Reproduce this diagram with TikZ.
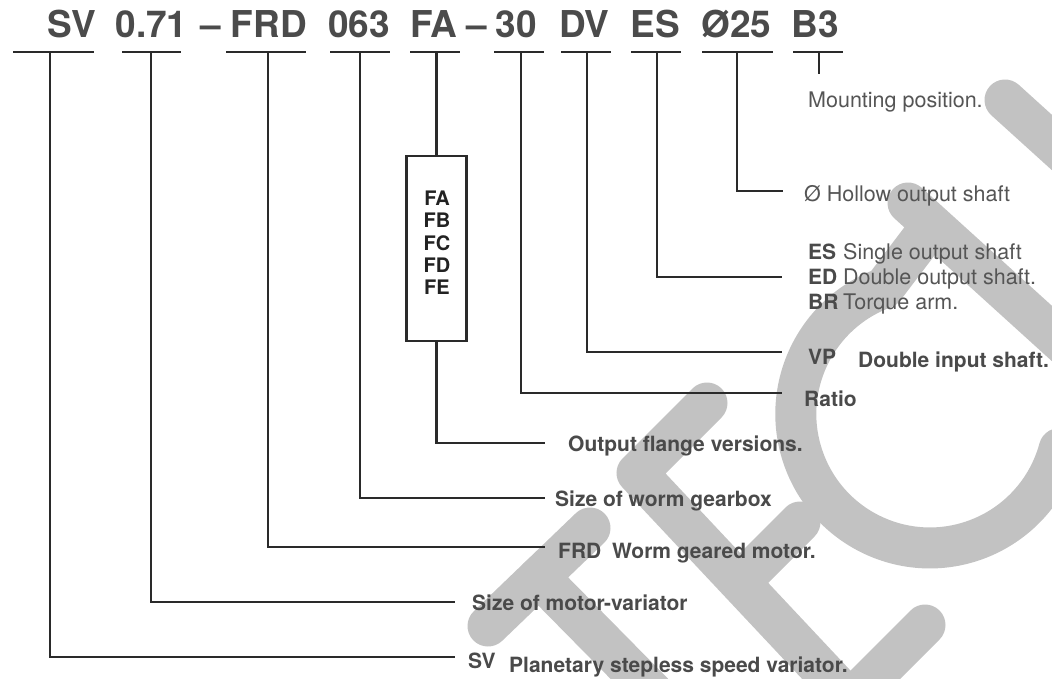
\documentclass[tikz,border=0pt]{standalone}
\usepackage{fontspec}
\setmainfont{TeX Gyre Heros}
\definecolor{hdr}{HTML}{4B4B4B}
\definecolor{lab}{HTML}{4A4A4A}
\definecolor{reg}{HTML}{555555}
\definecolor{lnc}{HTML}{2A2A2A}
\definecolor{wm}{HTML}{C2C2C2}
\definecolor{boxt}{HTML}{222222}
\tikzset{
  code/.style={font=\fontsize{37}{40}\selectfont\bfseries, text=hdr, inner sep=0pt, anchor=base},
  bl/.style={font=\fontsize{21}{24}\selectfont\bfseries, text=lab, inner sep=0pt, anchor=base west},
  rl/.style={font=\fontsize{21.5}{24}\selectfont, text=reg, inner sep=0pt, anchor=base west},
  ln/.style={draw=lnc, line width=2.4pt},
  wmark/.style={draw=wm, line width=41pt, line cap=round, line join=round},
  boxtxt/.style={font=\fontsize{20}{22}\selectfont\bfseries, text=boxt, inner sep=0pt, anchor=base},
  flbox/.style={draw=lnc, line width=2.4pt, minimum width=60pt, minimum height=185pt, inner sep=0pt},
}
\begin{document}
\begin{tikzpicture}[x=1pt,y=-1pt]
\useasboundingbox[fill=white] (0,0) rectangle (1052,679);
% watermark
\begin{scope}
\clip (0,0) rectangle (1052,679);
\draw[wmark] (1005,100) -- (1090,177);
\draw[wmark] (908,203) -- (1090,368);
\draw[wmark] (922,238) -- (884,288) arc[start angle=-110, end angle=-345, radius=134];
\draw[wmark] (488,626) -- (590,528);
\draw[wmark] (539,577) -- (670,710);
\draw[wmark] (707,403) -- (637,473) -- (850,700);
\draw[wmark] (740,582) -- (800,522);
\draw[wmark] (851,699) -- (925,625);
\end{scope}
% header codes
\node[code] (h-sv)  at (72,37.7)    {SV};
\node[code] (h-071) at (151.5,37.7) {0.71};
\node[code] (h-d1)  at (210.5,37.7) {–};
\node[code] (h-frd) at (269,37.7)   {FRD};
\node[code] (h-063) at (359,37.7)   {063};
\node[code] (h-fa)  at (434,37.7)   {FA};
\node[code] (h-d2)  at (477,37.7)   {–};
\node[code] (h-30)  at (516,37.7)   {30};
\node[code] (h-dv)  at (584.5,37.7) {DV};
\node[code] (h-es)  at (655.5,37.7) {ES};
\node[code] (h-o25) at (736.5,37.7) {Ø25};
\node[code] (h-b3)  at (815,37.7)   {B3};
% underlines
\foreach \a/\b in {13/94,122/181,226/306,330/390,410/460,494/544,561/611,631/681,702/773,793/843}
  \draw[ln] (\a,52) -- (\b,52);
% stem start coordinates
\coordinate (sv-u)  at (50,52);
\coordinate (071-u) at (151,52);
\coordinate (frd-u) at (268,52);
\coordinate (063-u) at (360,52);
\coordinate (fa-u)  at (436.5,52);
\coordinate (30-u)  at (521,52);
\coordinate (dv-u)  at (587,52);
\coordinate (es-u)  at (657,52);
\coordinate (o25-u) at (737,52);
\coordinate (b3-u)  at (819,52);
% connector ends
\coordinate (sv-e)  at (455,657);
\coordinate (071-e) at (455,602);
\coordinate (frd-e) at (545,547);
\coordinate (063-e) at (545,498);
\coordinate (fa-e)  at (545,443);
\coordinate (30-e)  at (782,393);
\coordinate (dv-e)  at (782,352);
\coordinate (es-e)  at (782,277);
\coordinate (o25-e) at (783,191);
\coordinate (b3-e)  at (819,74);
% flange box
\node[flbox] (box) at (436.5,248.5) {};
\node[boxtxt] (t-fa) at (437,205.5) {FA};
\node[boxtxt] (t-fb) at (437,227.5) {FB};
\node[boxtxt] (t-fc) at (437,250.5) {FC};
\node[boxtxt] (t-fd) at (437,272.5) {FD};
\node[boxtxt] (t-fe) at (437,294)   {FE};
% connectors
\draw[ln] (sv-u)  |- (sv-e);
\draw[ln] (071-u) |- (071-e);
\draw[ln] (frd-u) |- (frd-e);
\draw[ln] (063-u) |- (063-e);
\draw[ln] (fa-u)  -- (box.north);
\draw[ln] (box.south) |- (fa-e);
\draw[ln] (30-u)  |- (30-e);
\draw[ln] (dv-u)  |- (dv-e);
\draw[ln] (es-u)  |- (es-e);
\draw[ln] (o25-u) |- (o25-e);
\draw[ln] (b3-u)  -- (b3-e);
% labels
\node[rl] (l-mp)  at (808,108) {Mounting position.};
\node[rl] (l-ho)  at (804,202) {Ø Hollow output shaft};
\node[bl] (l-es)  at (808,259) {ES};
\node[rl] (l-est) at (843,259) {Single output shaft};
\node[bl] (l-ed)  at (808,284) {ED};
\node[rl] (l-edt) at (843,284) {Double output shaft.};
\node[bl] (l-br)  at (808,309) {BR};
\node[rl] (l-brt) at (843,309) {Torque arm.};
\node[bl] (l-vp)  at (808,364) {VP};
\node[bl] (l-vpt) at (858,367) {Double input shaft.};
\node[bl] (l-rat) at (804,406) {Ratio};
\node[bl] (l-ofv) at (568,451) {Output flange versions.};
\node[bl] (l-swg) at (555,506) {Size of worm gearbox};
\node[bl] (l-frd) at (558,558) {FRD};
\node[bl] (l-frt) at (612,558) {Worm geared motor.};
\node[bl] (l-smv) at (472,610) {Size of motor-variator};
\node[bl] (l-sv)  at (468,668) {SV};
\node[bl] (l-svt) at (509,672) {Planetary stepless speed variator.};
\end{tikzpicture}
\end{document}
